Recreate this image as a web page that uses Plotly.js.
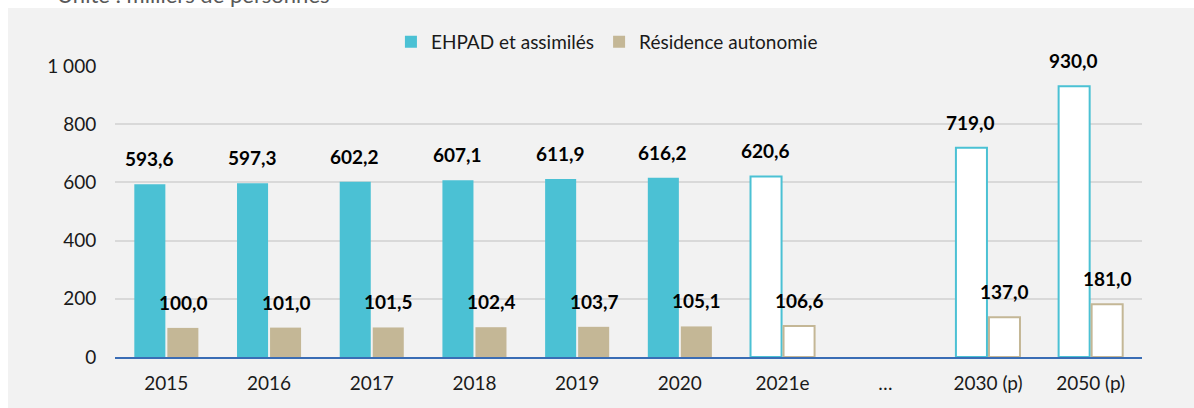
<!DOCTYPE html>
<html>
<head>
<meta charset="utf-8">
<script src="https://cdn.plot.ly/plotly-3.0.1.min.js"></script>
<style>
  body { margin: 0; background: #ffffff; width: 1194px; height: 408px; overflow: hidden; position: relative; }
  #unite { position: absolute; left: 57px; top: -16px; font-family: Lato, sans-serif; font-size: 22px; color: #595959; line-height: 1; white-space: nowrap; }
  #graphique { position: absolute; left: 8px; top: 8px; width: 1186px; height: 400px; }
</style>
</head>
<body>
<div id="unite">Unité : milliers de personnes</div>
<div id="graphique"></div>
<script>
// Places en établissements pour personnes âgées (milliers)
const annees = ['2015', '2016', '2017', '2018', '2019', '2020', '2021e', '…', '2030 (p)', '2050 (p)'];
const ehpad = [593.6, 597.3, 602.2, 607.1, 611.9, 616.2, 620.6, null, 719.0, 930.0];
const residence = [100.0, 101.0, 101.5, 102.4, 103.7, 105.1, 106.6, null, 137.0, 181.0];
// estimations / projections : barres vides
const projete = [false, false, false, false, false, false, true, false, true, true];

const couleurEhpad = '#4bc1d4';
const couleurResidence = '#c4b796';

function formatFr(v) {
    return v.toFixed(1).replace('.', ',');
}

function styleBarres(couleur) {
    return {
        color: projete.map(p => p ? '#ffffff' : couleur),
        line: {
            color: couleur,
            width: projete.map(p => p ? 2 : 0)
        }
    };
}

const data = [
    {
        x: annees,
        y: ehpad,
        name: 'EHPAD et assimilés',
        type: 'bar',
        marker: styleBarres(couleurEhpad),
        hoverinfo: 'skip'
    },
    {
        x: annees,
        y: residence,
        name: 'Résidence autonomie',
        type: 'bar',
        marker: styleBarres(couleurResidence),
        hoverinfo: 'skip'
    }
];

// étiquettes de valeur au-dessus des barres (x = index de catégorie)
const annotations = [];
annees.forEach((a, i) => {
    if (ehpad[i] !== null) {
        annotations.push({
            x: i, y: ehpad[i], text: '<b>' + formatFr(ehpad[i]) + '</b>',
            showarrow: false, xshift: -17, yshift: 12, yanchor: 'bottom',
            font: { size: 19, color: '#000000' }
        });
    }
    if (residence[i] !== null) {
        annotations.push({
            x: i, y: residence[i], text: '<b>' + formatFr(residence[i]) + '</b>',
            showarrow: false, xshift: 17, yshift: 12, yanchor: 'bottom',
            font: { size: 19, color: '#000000' }
        });
    }
});

const layout = {
    width: 1186,
    height: 400,
    barmode: 'group',
    bargap: 0.357,
    bargroupgap: 0.06,
    separators: ', ',
    paper_bgcolor: '#f2f2f2',
    plot_bgcolor: '#f2f2f2',
    font: { family: 'Lato, sans-serif', size: 19, color: '#1a1a1a' },
    margin: { l: 107, r: 52, t: 58, b: 51 },
    showlegend: true,
    legend: {
        orientation: 'h',
        x: 0.479,
        xanchor: 'center',
        y: 1.083,
        yanchor: 'middle',
        font: { size: 19, color: '#1a1a1a' },
        bgcolor: 'rgba(0,0,0,0)',
        traceorder: 'normal'
    },
    xaxis: {
        type: 'category',
        range: [-0.5, annees.length - 0.5],
        showgrid: false,
        showline: true,
        linecolor: '#3a6db5',
        linewidth: 2,
        ticks: 'outside',
        ticklen: 8,
        tickcolor: 'rgba(0,0,0,0)',
        tickfont: { size: 19 },
        fixedrange: true
    },
    yaxis: {
        range: [0, 1000],
        tickvals: [0, 200, 400, 600, 800, 1000],
        ticktext: ['0', '200', '400', '600', '800', '1 000'],
        showgrid: true,
        gridcolor: '#d9d9d9',
        gridwidth: 2,
        zeroline: false,
        showline: false,
        ticks: 'outside',
        ticklen: 14,
        tickcolor: 'rgba(0,0,0,0)',
        tickfont: { size: 19 },
        fixedrange: true
    },
    annotations: annotations
};

Plotly.newPlot('graphique', data, layout, { displayModeBar: false, staticPlot: true });
</script>
</body>
</html>
